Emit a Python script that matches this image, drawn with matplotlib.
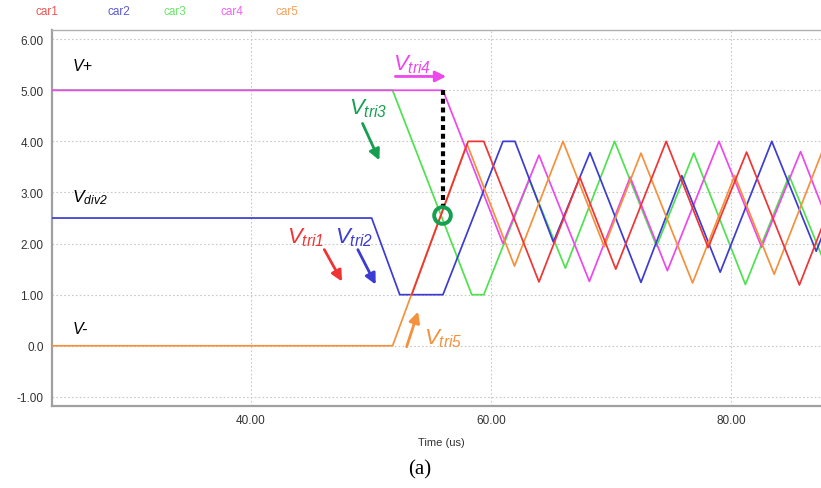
"""
Phase-shifted triangular carriers (car1..car5) at start-up.
Recreated from a simulator screenshot, vertices read off the picture.
"""

import matplotlib.pyplot as plt

RED, BLUE, GREEN, MAGENTA, ORANGE = "#f03434", "#3c3cd2", "#4fe24f", "#ec48ec", "#f5913c"
DKGREEN = "#14a050"
plt.rcParams.update({
    "font.family": ["Liberation Sans", "DejaVu Sans"],
    "mathtext.fontset": "custom",
    "mathtext.rm": "Liberation Sans:italic",
    "mathtext.it": "Liberation Sans:italic",
})

# carrier vertices: time (us), voltage (V)
car1_t = [53.4, 58.1, 59.4, 64.0, 67.4, 70.4, 74.6, 78.1, 81.3, 85.7, 87.6]
car1_v = [1.00, 4.00, 4.00, 1.25, 3.30, 1.50, 4.00, 1.92, 3.79, 1.19, 2.33]
car2_t = [23.0, 50.06, 52.4, 56.0, 61.0, 62.0, 65.2, 68.25, 72.5, 75.9, 79.1, 83.4, 87.1, 87.6]
car2_v = [2.50, 2.50, 1.00, 1.00, 4.00, 4.00, 2.03, 3.78, 1.24, 3.33, 1.44, 4.00, 1.85, 2.15]
car3_t = [23.0, 51.8, 58.4, 59.4, 63.2, 66.2, 70.3, 73.8, 76.9, 81.2, 84.85, 87.6]
car3_v = [5.00, 5.00, 1.00, 1.00, 3.25, 1.52, 4.00, 1.95, 3.77, 1.20, 3.33, 1.74]
car4_t = [23.0, 56.0, 61.0, 64.0, 68.2, 71.6, 74.7, 79.0, 82.55, 85.8, 87.6]
car4_v = [5.00, 5.00, 2.00, 3.73, 1.26, 3.30, 1.47, 4.00, 1.93, 3.80, 2.72]
car5_t = [23.0, 51.8, 58.0, 61.96, 66.0, 69.44, 72.5, 76.8, 80.3, 83.6, 87.6]
car5_v = [0.00, 0.00, 3.95, 1.56, 4.00, 1.94, 3.77, 1.23, 3.33, 1.40, 3.80]

carriers = [("car1", car1_t, car1_v, RED), ("car2", car2_t, car2_v, BLUE),
            ("car3", car3_t, car3_v, GREEN), ("car4", car4_t, car4_v, MAGENTA),
            ("car5", car5_t, car5_v, ORANGE)]

y_ticks = [-1, 0, 1, 2, 3, 4, 5, 6]
y_labels = ["-1.00", "0.0", "1.00", "2.00", "3.00", "4.00", "5.00", "6.00"]
x_ticks = [40, 60, 80]
x_labels = ["40.00", "60.00", "80.00"]

fig = plt.figure(figsize=(8.21, 4.89), dpi=100)
ax = fig.add_axes([0.0633, 0.1677, 0.9367, 0.769])

# orange under red on the shared ramp, magenta over green on the V+ rail
zorders = {"car1": 6, "car2": 4, "car3": 2, "car4": 3, "car5": 5}
for name, t, v, c in carriers:
    ax.plot(t, v, color=c, lw=1.25, zorder=zorders[name])

ax.set_xlim(23.42, 87.5)
ax.set_ylim(-1.178, 6.18)
ax.set_yticks(y_ticks)
ax.set_yticklabels(y_labels)
ax.set_xticks(x_ticks)
ax.set_xticklabels(x_labels)
ax.tick_params(length=0, labelsize=8.5, colors="#333333", pad=6)
ax.grid(True, color="#c8c8c8", ls=(0, (1.5, 2)), lw=0.8)
ax.set_axisbelow(True)
for side in ["left", "bottom"]:
    ax.spines[side].set_color("#a0a0a0")
    ax.spines[side].set_linewidth(1.6)
ax.spines["top"].set_color("#b0b0b0")
ax.spines["top"].set_linewidth(1.0)
ax.spines["right"].set_visible(False)

# legend-like labels above the plot
for (name, _, _, c), xpx in zip(carriers, [35, 107, 163, 220, 276]):
    fig.text(xpx / 821, 1 - 12 / 489, name, color=c, fontsize=8.5, va="center", alpha=0.85)

fig.text(441 / 821, 1 - 443 / 489, "Time (us)", fontsize=8, ha="center", va="center", color="#333333")
fig.text(420 / 821, 1 - 470 / 489, "(a)", fontsize=15, ha="center", va="center",
         family="Liberation Serif")

# rail labels
ax.text(25.1, 5.48, "V+", fontsize=11.5, style="italic", va="center")
ax.text(25.1, 2.91, r"$V_{div2}$", fontsize=12.5, va="center")
ax.text(25.1, 0.33, "V-", fontsize=11.5, style="italic", va="center")

# carrier annotations with arrows
ax.text(51.8, 5.52, r"$V_{tri4}$", color=MAGENTA, fontsize=16, va="center")
ax.annotate("", xy=(56.5, 5.27), xytext=(51.8, 5.27),
            arrowprops=dict(arrowstyle="-|>", color=MAGENTA, lw=2, mutation_scale=16))
ax.text(48.2, 4.66, r"$V_{tri3}$", color=DKGREEN, fontsize=16, va="center")
ax.annotate("", xy=(50.8, 3.58), xytext=(49.2, 4.4),
            arrowprops=dict(arrowstyle="-|>", color=DKGREEN, lw=2, mutation_scale=16))
ax.text(43.0, 2.14, r"$V_{tri1}$", color=RED, fontsize=16, va="center")
ax.annotate("", xy=(47.7, 1.21), xytext=(46.0, 1.93),
            arrowprops=dict(arrowstyle="-|>", color=RED, lw=2, mutation_scale=16))
ax.text(47.0, 2.14, r"$V_{tri2}$", color=BLUE, fontsize=16, va="center")
ax.annotate("", xy=(50.5, 1.15), xytext=(48.8, 1.93),
            arrowprops=dict(arrowstyle="-|>", color=BLUE, lw=2, mutation_scale=16))
ax.text(54.4, 0.15, r"$V_{tri5}$", color=ORANGE, fontsize=16, va="center")
ax.annotate("", xy=(54.0, 0.72), xytext=(52.9, -0.07),
            arrowprops=dict(arrowstyle="-|>", color=ORANGE, lw=2, mutation_scale=16))

# dotted marker from V+ down to the crossing, and the circle at the crossing
ax.plot([56.0, 56.0], [5.0, 2.64], color="black", lw=3, ls=(0, (1.2, 0.9)), zorder=7)
ax.plot([55.9], [2.56], marker="o", ms=12, mfc="none", mec=DKGREEN, mew=2.8, zorder=8)

fig.savefig("out.png", dpi=100)
